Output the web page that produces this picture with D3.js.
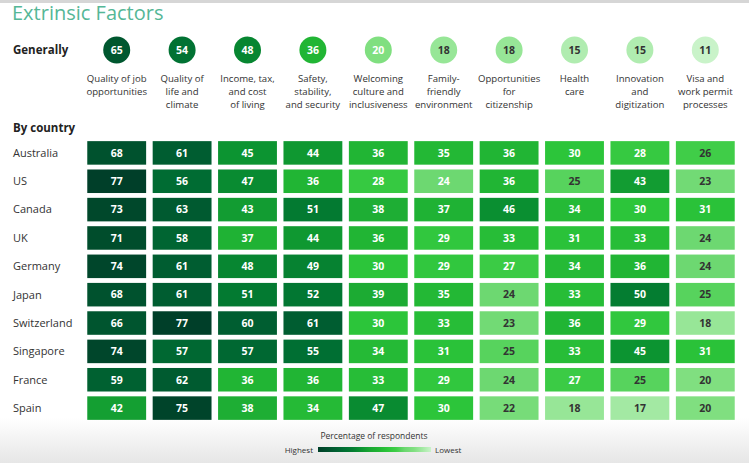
<!DOCTYPE html>
<html>
<head>
<meta charset="utf-8">
<script src="https://cdn.jsdelivr.net/npm/d3@7"></script>
<style>
  body { margin: 0; background: #fff; }
  svg { display: block; font-family: "Open Sans", "Noto Sans", sans-serif; }
</style>
</head>
<body>
<div id="mainDiv"></div>
<script>
// factors (columns), header labels split in lines
var factors = ["Quality of job opportunities", "Quality of life and climate", "Income, tax, and cost of living",
    "Safety, stability, and security", "Welcoming culture and inclusiveness", "Family-friendly environment",
    "Opportunities for citizenship", "Health care", "Innovation and digitization", "Visa and work permit processes"];

var factorLines = [["Quality of job", "opportunities"], ["Quality of", "life and", "climate"],
    ["Income, tax,", "and cost", "of living"], ["Safety,", "stability,", "and security"],
    ["Welcoming", "culture and", "inclusiveness"], ["Family-", "friendly", "environment"],
    ["Opportunities", "for", "citizenship"], ["Health", "care"], ["Innovation", "and", "digitization"],
    ["Visa and", "work permit", "processes"]];

var generally = [65, 54, 48, 36, 20, 18, 18, 15, 15, 11];

var countries = ["Australia", "US", "Canada", "UK", "Germany", "Japan", "Switzerland", "Singapore", "France", "Spain"];

var values = [
    [68, 61, 45, 44, 36, 35, 36, 30, 28, 26],
    [77, 56, 47, 36, 28, 24, 36, 25, 43, 23],
    [73, 63, 43, 51, 38, 37, 46, 34, 30, 31],
    [71, 58, 37, 44, 36, 29, 33, 31, 33, 24],
    [74, 61, 48, 49, 30, 29, 27, 34, 36, 24],
    [68, 61, 51, 52, 39, 35, 24, 33, 50, 25],
    [66, 77, 60, 61, 30, 33, 23, 36, 29, 18],
    [74, 57, 57, 55, 34, 31, 25, 33, 45, 31],
    [59, 62, 36, 36, 33, 29, 24, 27, 25, 20],
    [42, 75, 38, 34, 47, 30, 22, 18, 17, 20]
];

// colour stops (value -> colour)
var colorDomain = [11, 17, 20, 24, 26, 30, 36, 40, 45, 50, 55, 60, 70, 77];
var colorRange = ["#c9f3c9", "#a3e9a3", "#80df80", "#6dd871", "#40cd48", "#2cc53a", "#21b534", "#1aa733",
    "#0c9431", "#047d31", "#006f33", "#005e31", "#004f2d", "#003f29"];

var width = 749, height = 463;

var svg = d3.select("#mainDiv").append("svg")
    .attr("width", width).attr("height", height).attr("id", "mainCanvas");

var defs = svg.append("defs");
var bg = defs.append("linearGradient").attr("id", "bgGrad").attr("x1", 0).attr("y1", 0).attr("x2", 0).attr("y2", 1);
bg.append("stop").attr("offset", "0%").attr("stop-color", "#ffffff");
bg.append("stop").attr("offset", "100%").attr("stop-color", "#e6e6e6");

var color = d3.scaleLinear().domain(colorDomain).range(colorRange).clamp(true);

// background bits
svg.append("rect").attr("x", 0).attr("y", 0).attr("width", width).attr("height", 3).attr("fill", "#d6d6d6");
svg.append("rect").attr("x", 0).attr("y", 418).attr("width", width).attr("height", 45).attr("fill", "url(#bgGrad)");

// title
svg.append("text").attr("x", 12).attr("y", 20).text("Extrinsic Factors")
    .attr("font-size", 20).attr("fill", "#55b796");

var x = d3.scaleBand().domain(d3.range(factors.length)).range([84, 738]).paddingInner(0.1).paddingOuter(0.05);
var y = d3.scaleBand().domain(countries).range([140, 421]).paddingInner(0.17).paddingOuter(0.04);

// generally row
svg.append("text").attr("x", 13).attr("y", 54).text("Generally")
    .attr("font-size", 11.5).attr("font-weight", "bold").attr("fill", "#222");

var circles = svg.append("g").selectAll("g").data(generally).join("g")
    .attr("transform", function (d, i) { return "translate(" + (x(i) + x.bandwidth() / 2) + ",50)"; });

circles.append("circle").attr("r", 13.5).attr("fill", function (d) { return color(d); });
circles.append("text").attr("text-anchor", "middle").attr("dy", "0.35em")
    .attr("font-size", 10.5).attr("font-weight", "bold")
    .attr("fill", function (d) { return d >= 20 ? "#fff" : "#333"; })
    .text(function (d) { return d; });

// factor labels
var labels = svg.append("g").selectAll("text").data(factorLines).join("text")
    .attr("text-anchor", "middle").attr("font-size", 9.6).attr("fill", "#333")
    .attr("x", function (d, i) { return x(i) + x.bandwidth() / 2; })
    .attr("y", 82);
labels.selectAll("tspan").data(function (d) { return d; }).join("tspan")
    .attr("x", function () { return this.parentNode.getAttribute("x"); })
    .attr("dy", function (d, i) { return i === 0 ? 0 : 13; })
    .text(function (d) { return d; });

// by country
svg.append("text").attr("x", 13).attr("y", 132).text("By country")
    .attr("font-size", 11.5).attr("font-weight", "bold").attr("fill", "#222");

svg.append("g").selectAll("text").data(countries).join("text")
    .attr("x", 13).attr("y", function (d) { return y(d) + y.bandwidth() / 2; })
    .attr("dy", "0.35em").attr("font-size", 11).attr("fill", "#333")
    .text(function (d) { return d; });

var rows = svg.append("g").selectAll("g").data(values).join("g")
    .attr("transform", function (d, i) { return "translate(0," + y(countries[i]) + ")"; });

var cells = rows.selectAll("g").data(function (d) { return d; }).join("g")
    .attr("transform", function (d, j) { return "translate(" + x(j) + ",0)"; });

cells.append("rect").attr("width", x.bandwidth()).attr("height", y.bandwidth())
    .attr("fill", function (d) { return color(d); });

cells.append("text").attr("x", x.bandwidth() / 2).attr("y", y.bandwidth() / 2).attr("dy", "0.36em")
    .attr("text-anchor", "middle").attr("font-size", 10.5).attr("font-weight", "bold")
    .attr("fill", function (d, j) { return (d <= 26 && j >= 6) ? "#333" : "#fff"; })
    .text(function (d) { return d; });

// legend
svg.append("text").attr("x", 374).attr("y", 439).attr("text-anchor", "middle")
    .attr("font-size", 8.5).attr("fill", "#333").text("Percentage of respondents");

var lg = defs.append("linearGradient").attr("id", "legGrad");
colorRange.slice().reverse().forEach(function (c, i, arr) {
    lg.append("stop").attr("offset", (i / (arr.length - 1) * 100) + "%").attr("stop-color", c);
});
svg.append("rect").attr("x", 318).attr("y", 447).attr("width", 113).attr("height", 5).attr("fill", "url(#legGrad)");
svg.append("text").attr("x", 313).attr("y", 453).attr("text-anchor", "end")
    .attr("font-size", 8).attr("fill", "#333").text("Highest");
svg.append("text").attr("x", 435).attr("y", 453)
    .attr("font-size", 8).attr("fill", "#333").text("Lowest");
</script>
</body>
</html>
